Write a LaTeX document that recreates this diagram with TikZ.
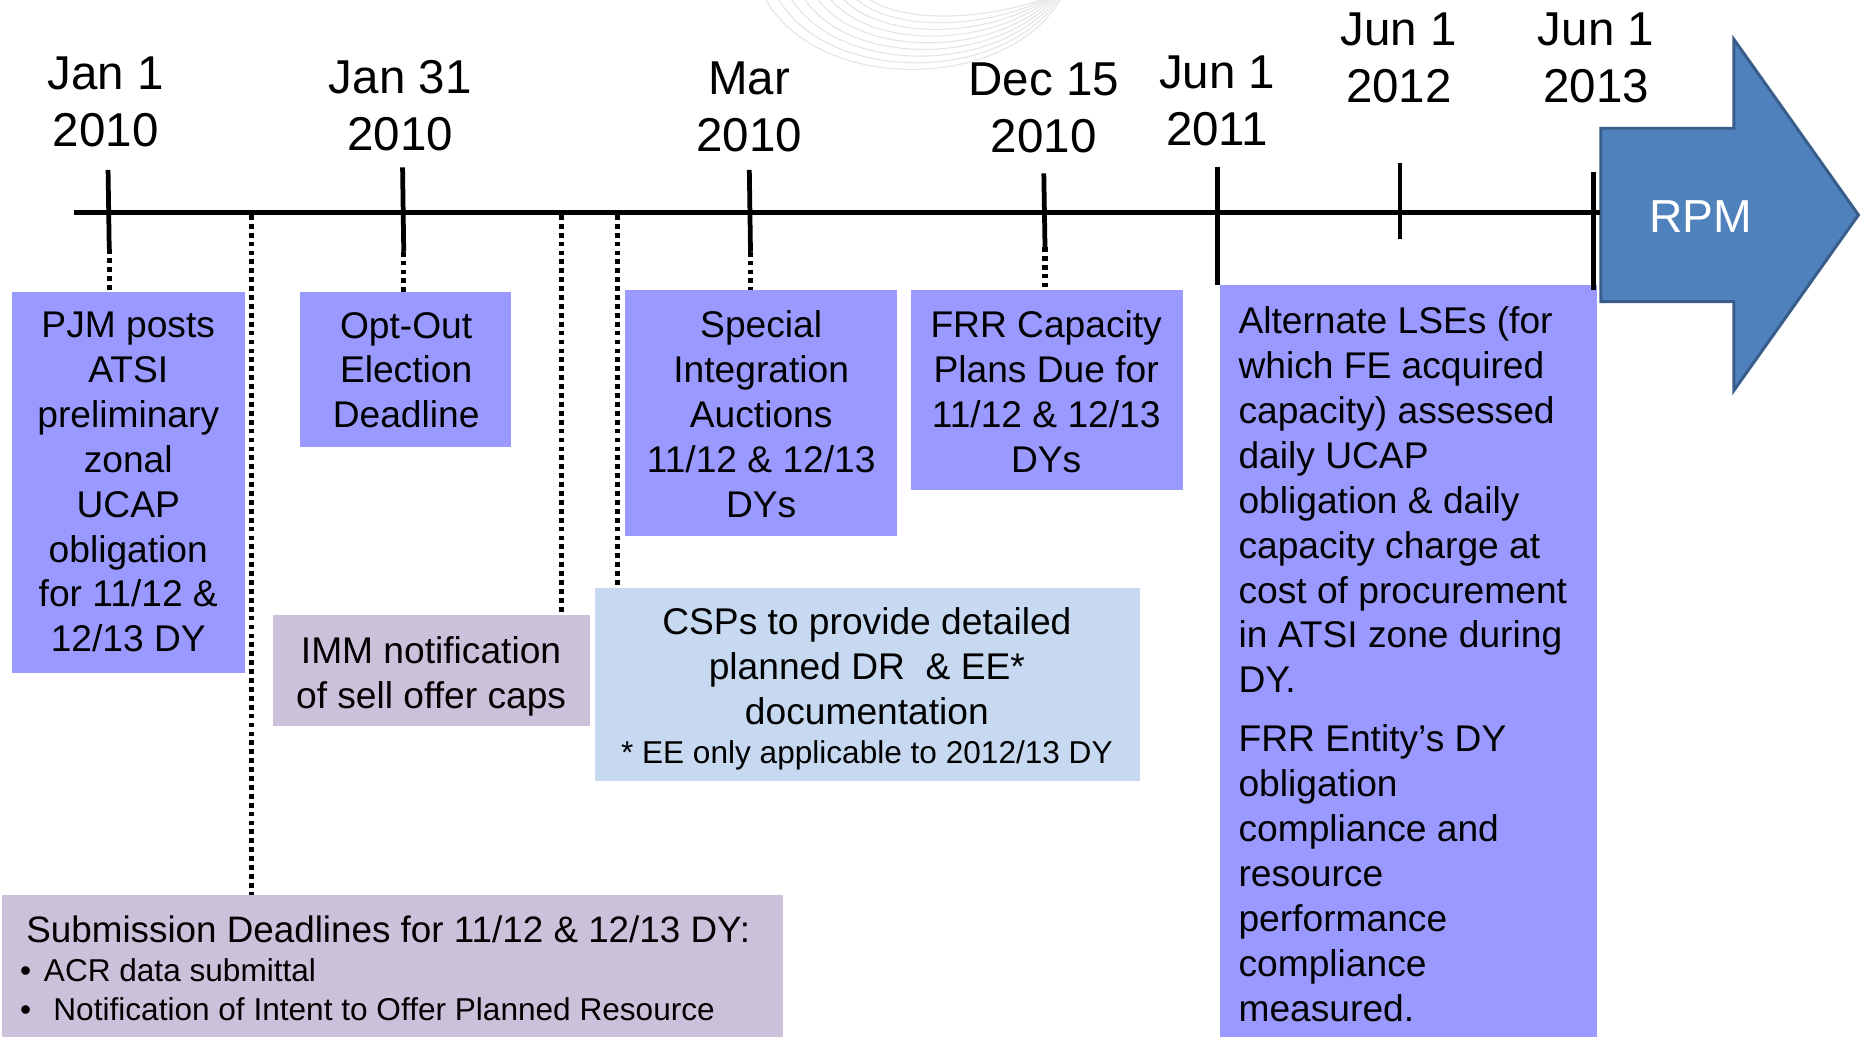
\documentclass[tikz,border=0pt]{standalone}
\usepackage{fontspec}
\setmainfont{Liberation Sans}
\definecolor{peri}{HTML}{9999FF}
\definecolor{lav}{HTML}{CCC1DA}
\definecolor{pale}{HTML}{C6D9F1}
\definecolor{rpmfill}{HTML}{4F81BD}
\definecolor{rpmline}{HTML}{385D8A}
\definecolor{arcgray}{HTML}{E4E4E4}
\tikzset{
  box/.style={inner sep=0pt, outer sep=0pt, anchor=north west},
  txt/.style={inner sep=0pt, outer sep=0pt, align=center, anchor=north,
    font=\fontsize{31.3}{37.8}\selectfont, execute at begin node=\strut},
  ltxt/.style={txt, align=left, anchor=north west},
  datelbl/.style={inner sep=0pt, outer sep=0pt, align=center, anchor=north,
    font=\fontsize{40}{48}\selectfont, execute at begin node=\strut},
  small/.style={inner sep=0pt, outer sep=0pt, font=\fontsize{26.6}{32}\selectfont},
  tickline/.style={line width=4pt},
  dotline/.style={line width=4.3pt, dash pattern=on 4pt off 3.5pt},
}
\begin{document}
\begin{tikzpicture}[x=1pt,y=-1pt]
\useasboundingbox[fill=white] (0,0) rectangle (1568,873);

% faint decorative arcs
\foreach \i in {0,...,8}
  \draw[arcgray, line width=0.9pt] ({645+\i*11},0) .. controls ({690+\i*9},{78-\i*7.5}) and ({845-\i*3},{78-\i*7.5}) .. ({893-\i*2},0);

% boxes
\node[box, fill=peri, minimum width=196pt, minimum height=321pt] (pjm) at (10,246) {};
\node[box, fill=peri, minimum width=177pt, minimum height=130pt] (opt) at (253,246) {};
\node[box, fill=peri, minimum width=229pt, minimum height=207pt] (sia) at (526,244) {};
\node[box, fill=peri, minimum width=229pt, minimum height=169pt] (frr) at (767,244) {};
\node[box, fill=peri, minimum width=318pt, minimum height=640pt] (alt) at (1027,240) {};
\node[box, fill=lav, minimum width=267pt, minimum height=93pt] (imm) at (230,518) {};
\node[box, fill=pale, minimum width=459pt, minimum height=163pt] (csp) at (501,495) {};
\node[box, fill=lav, minimum width=657pt, minimum height=125pt] (sub) at (2,754) {};

% RPM arrow
\draw[rpmline, fill=rpmfill, line width=2.5pt, line join=miter]
  (1348,108) -- (1460,108) -- (1460,33) -- (1565,181) -- (1460,329) -- (1460,254) -- (1348,254) -- cycle;
\node[inner sep=0pt, text=white, font=\fontsize{39}{46}\selectfont, anchor=base] (rpm) at (1432,196) {RPM};

% timeline
\coordinate (tlstart) at (62,179);
\coordinate (tlend) at (1347,179);
\draw[line width=4pt] (tlstart) -- (tlend);

% date labels
\node[datelbl] (d1) at (89,47.7) {Jan 1\\2010};
\node[datelbl] (d2) at (337,50.7) {Jan 31\\2010};
\node[datelbl] (d3) at (631,51.7) {Mar\\2010};
\node[datelbl] (d4) at (879,52.7) {Dec 15\\2010};
\node[datelbl] (d5) at (1025,46.7) {Jun 1\\2011};
\node[datelbl] (d6) at (1178,10.7) {Jun 1\\2012};
\node[datelbl] (d7) at (1344,10.7) {Jun 1\\2013};

% tick marks
\coordinate (k1) at (91,143);  \coordinate (k1b) at (92,210);
\coordinate (k2) at (339,141); \coordinate (k2b) at (340,212);
\coordinate (k3) at (631,143); \coordinate (k3b) at (632,212);
\coordinate (k4) at (879,146); \coordinate (k4b) at (880,208);
\coordinate (k5) at (1025,141);
\coordinate (k6) at (1179,137); \coordinate (k6b) at (1179,201);
\coordinate (k7) at (1342,145);
\draw[tickline] (k1) -- (k1b);
\draw[tickline] (k2) -- (k2b);
\draw[tickline] (k3) -- (k3b);
\draw[tickline] (k4) -- (k4b);
\draw[tickline] (k5) -- (k5 |- alt.north);
\draw[tickline] (k6) -- (k6b);
\draw[tickline] (k7) -- (1342,244);

% dotted connectors
\draw[dotline] (k1b) -- (k1b |- pjm.north);
\draw[dotline] (k2b) -- (k2b |- opt.north);
\draw[dotline] (k3b) -- (k3b |- sia.north);
\draw[dotline] (k4b) -- (k4b |- frr.north);
\coordinate (p1) at (212,181);
\coordinate (p2) at (473,181);
\coordinate (p3) at (520,181);
\draw[dotline] (p1) -- (p1 |- sub.north);
\draw[dotline] (p2) -- (p2 |- imm.north);
\draw[dotline] (p3) -- (p3 |- csp.north);

% box texts
\node[txt] (pjmt) at (108,262.8) {PJM posts\\ATSI\\preliminary\\zonal\\UCAP\\obligation\\for 11/12 \&\\12/13 DY};
\node[txt] (optt) at (342,262.8) {Opt-Out\\Election\\Deadline};
\node[txt] (siat) at (641,261.8) {Special\\Integration\\Auctions\\11/12 \& 12/13\\DYs};
\node[txt] (frrt) at (881,261.8) {FRR Capacity\\Plans Due for\\11/12 \& 12/13\\DYs};
\node[ltxt] (altt) at (1043,258.3) {Alternate LSEs (for\\which FE acquired\\capacity) assessed\\daily UCAP\\obligation \& daily\\capacity charge at\\cost of procurement\\in ATSI zone during\\DY.};
\node[ltxt] (altt2) at (1043,610.3) {FRR Entity’s DY\\obligation\\compliance and\\resource\\performance\\compliance\\measured.};
\node[txt] (immt) at (363,535.8) {IMM notification\\of sell offer caps};
\node[txt] (cspt) at (730,511.8) {CSPs to provide detailed\\planned DR\ \ \& EE*\\documentation};
\node[small, anchor=base] (cspn) at (730,642.6) {* EE only applicable to 2012/13 DY};
\node[inner sep=0pt, anchor=base west, font=\fontsize{31}{37}\selectfont] (subt) at (22,793.3) {Submission Deadlines for 11/12 \& 12/13 DY:};
\node[small, anchor=base west] (b1) at (17,826.5) {•};
\node[small, anchor=base west] (b1t) at (37,826.5) {ACR data submittal};
\node[small, anchor=base west] (b2) at (17,859.5) {•};
\node[small, anchor=base west] (b2t) at (45,859.5) {Notification of Intent to Offer Planned Resource};
\end{tikzpicture}
\end{document}
